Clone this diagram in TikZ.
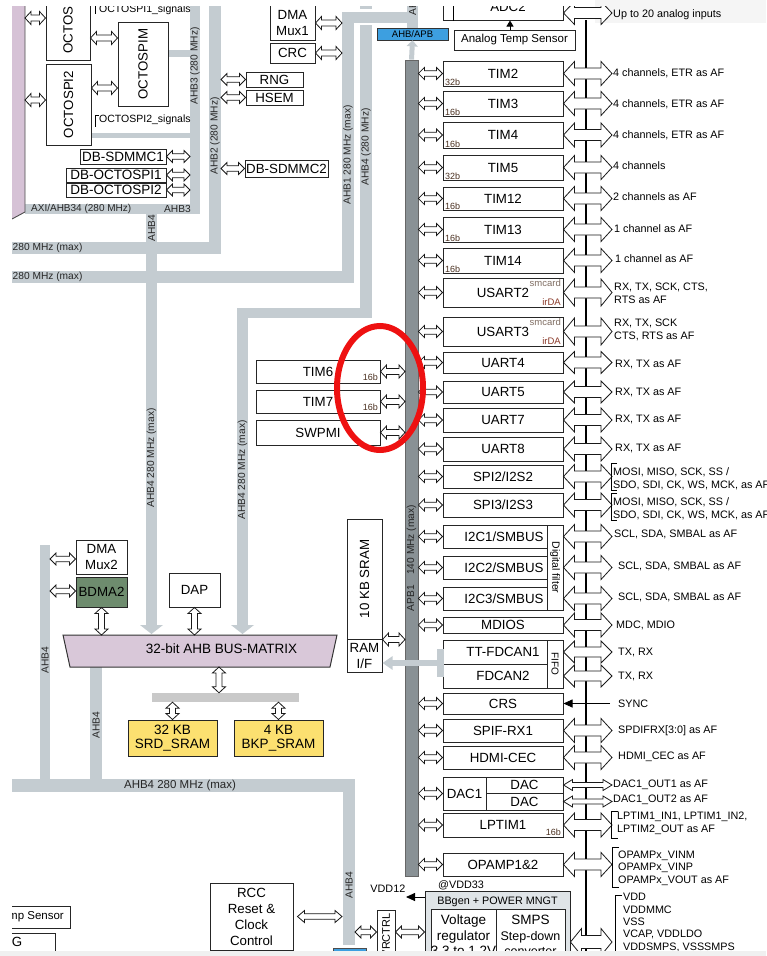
\documentclass[tikz,border=0pt]{standalone}
\usepackage{fontspec}
\setmainfont{Liberation Sans}
\usetikzlibrary{calc,arrows.meta}
\definecolor{bus}{HTML}{C4CCD1}
\definecolor{apbc}{HTML}{899195}
\definecolor{mat}{HTML}{D9C8D9}
\definecolor{purp}{HTML}{D6C2D6}
\definecolor{ylw}{HTML}{FCE070}
\definecolor{grn}{HTML}{6E8C6E}
\definecolor{blu}{HTML}{3D9FE0}
\definecolor{brn}{HTML}{4A3020}
\definecolor{irda}{HTML}{8B3A2A}
\definecolor{redc}{HTML}{EE1111}
\definecolor{bbg}{HTML}{DFE4E7}
\definecolor{gbar}{HTML}{C9C9C9}
\newcommand{\fs}[2]{\fontsize{#1}{#2}\selectfont}
\tikzset{
 box/.style={draw=black!85, line width=1pt, fill=white, inner sep=0pt, align=center, font=\fs{13.3}{16}},
 hol/.style={draw=black!90, line width=0.8pt, fill=white},
 lab/.style={anchor=west, inner sep=0pt, align=left, font=\fs{10.8}{12.7}},
 busl/.style={inner sep=0pt, font=\fs{10.2}{12}, rotate=90, text=black!85},
 busth/.style={inner sep=0pt, font=\fs{10.2}{12}, text=black!85},
 bits/.style={inner sep=0pt, font=\fs{9}{9}, text=brn, anchor=south west},
 bitse/.style={inner sep=0pt, font=\fs{9}{9}, text=brn, anchor=south east},
 txt/.style={inner sep=0pt, font=\fs{13.3}{16}, align=center},
 brk/.style={line width=0.8pt},
}
% box from (x1,y1) to (x2,y2)
\newcommand{\bx}[7][]{\node[box,minimum width={((#5)-(#3))*1pt},minimum height={((#6)-(#4))*1pt},#1] (#2) at ({((#3)+(#5))/2},{((#4)+(#6))/2}) {#7};}
% hollow horizontal double arrow: left x ref, right x ref, y ref, half head, half shaft, head length
\newcommand{\dblh}[6]{%
 \coordinate (dA) at (#1|-#3); \coordinate (dB) at (#2|-#3);
 \draw[hol] (dA) -- ++(#6,-#4) -- ++(0,#4-#5) -- ($(dB)+(-#6,-#5)$) -- ++(0,#5-#4) -- (dB) -- ++(-#6,#4) -- ++(0,#5-#4) -- ($(dA)+(#6,#5)$) -- ++(0,#4-#5) -- cycle;}
% hollow vertical double arrow: top y ref, bottom y ref, x ref, half head, half shaft, head length
\newcommand{\dblv}[6]{%
 \coordinate (dA) at (#3|-#1); \coordinate (dB) at (#3|-#2);
 \draw[hol] (dA) -- ++(-#4,#6) -- ++(#4-#5,0) -- ($(dB)+(-#5,-#6)$) -- ++(#5-#4,0) -- (dB) -- ++(#4,-#6) -- ++(#5-#4,0) -- ($(dA)+(#5,#6)$) -- ++(#4-#5,0) -- cycle;}
\newcommand{\la}[1]{\dblh{apb.east}{#1.west}{#1.west}{6}{2.8}{6}}
\newcommand{\ra}[2][12]{\dblh{#2.east}{rx}{#2.east}{#1}{5.5}{11}}
\begin{document}
\begin{tikzpicture}[x=1pt,y=-1pt]
\useasboundingbox (0,0) rectangle (766,956);
\fill[black!4] (595,0) rectangle (766,23);
\begin{scope}
\clip (12,6) rectangle (766,951);
% ---------------- grey buses
\fill[bus] (190,-5) rectangle (200,214);
\fill[bus] (25,204) rectangle (200,214);
\fill[bus] (168,50) rectangle (190,57);
\fill[bus] (91,133) rectangle (190,138);
\fill[bus] (146,214) rectangle (157,626);
\fill[bus] (209,-5) rectangle (221,254);
\fill[bus] (0,242) rectangle (221,254);
\fill[bus] (342,12) rectangle (354,283);
\fill[bus] (0,271) rectangle (354,283);
\fill[bus] (360,-5) rectangle (372,9);
\fill[bus] (360,25) rectangle (372,318);
\fill[bus] (237,308) rectangle (372,318);
\fill[bus] (237,308) rectangle (248,626);
\fill[bus] (342,12) rectangle (418,23);
\fill[bus] (407,-5) rectangle (418,28);
\fill[bus] (140,625) -- (163,625) -- (151.5,634) -- cycle;
\fill[bus] (231,625) -- (254,625) -- (242.5,634) -- cycle;
\fill[bus] (40,545) rectangle (50,792);
\fill[bus] (90,667) rectangle (102,792);
\fill[bus] (0,779) rectangle (355,792);
\fill[bus] (343,779) rectangle (355,945);
% bus labels
\node[busl] at (195,66) {AHB3 (280 MHz)};
\node[busth,anchor=west,font=\fs{10}{12}] at (31,209) {AXI/AHB34 (280 MHz)};
\node[busth] at (177.5,209) {AHB3};
\node[busl] at (151.5,228) {AHB4};
\node[busl] at (215,136) {AHB2 (280 MHz)};
\node[busth,anchor=west] at (12.5,248) {280 MHz (max)};
\node[busth,anchor=west] at (12.5,277) {280 MHz (max)};
\node[busl] at (348,155) {AHB1 280 MHz (max)};
\node[busl] at (366,147) {AHB4 (280 MHz)};
\node[busl,anchor=west] at (412.5,16) {AHB1};
\node[busl] at (151.5,458) {AHB4 280 MHz (max)};
\node[busl] at (242.5,470) {AHB4 280 MHz (max)};
\node[busl] at (45,660) {AHB4};
\node[busl] at (96,725) {AHB4};
\node[busth,font=\fs{11.5}{12}] at (180,786) {AHB4 280 MHz (max)};
\node[busl] at (349,885) {AHB4};
% ---------------- top-left
\fill[purp] (12,-5) -- (25,-5) -- (25,212) -- (12,219) -- cycle;
\draw[line width=0.9pt, black!70] (25,-5) -- (25,212) -- (12,219);
\bx{octa}{46}{-20}{90}{60}{}
\node[txt,rotate=90] (octat) at (octa) {OCTOSPI1};
\bx{octb}{46}{64}{91}{145}{}
\node[txt,rotate=90] (octbt) at (octb) {OCTOSPI2};
\bx{octm}{118}{22}{168}{106}{}
\node[txt,rotate=90] (octmt) at (octm) {OCTOSPIM};
\node[lab,font=\fs{10.5}{12}] (sig1) at (99,10) {OCTOSPI1\_signals};
\node[lab,font=\fs{10.5}{12}] (sig2) at (99,120) {OCTOSPI2\_signals};
\draw[brk] (99,4) -- (95.5,4) -- (95.5,14);
\draw[brk] (99,115) -- (95.5,115) -- (95.5,127);
\coordinate (pb1) at (25,18);
\coordinate (pb2) at (25,100);
\coordinate (oy1) at (0,38);
\coordinate (oy2) at (0,88);
\dblh{pb1}{octa.west}{pb1}{6.5}{3}{6}
\dblh{pb2}{octb.west}{pb2}{6.5}{3}{6}
\dblh{octa.east}{octm.west}{oy1}{6.5}{3}{6}
\dblh{octb.east}{octm.west}{oy2}{6.5}{3}{6}
\bx[font=\fs{13.5}{14}]{dbs1}{80}{149}{166}{164}{DB-SDMMC1}
\bx[font=\fs{13.5}{14}]{dbo1}{66}{168}{166}{182}{DB-OCTOSPI1}
\bx[font=\fs{13.5}{14}]{dbo2}{66}{183}{166}{197}{DB-OCTOSPI2}
\coordinate (ahb3l) at (190,0);
\dblh{dbs1.east}{ahb3l}{dbs1.east}{6}{2.8}{6}
\dblh{dbo1.east}{ahb3l}{dbo1.east}{6}{2.8}{6}
\dblh{dbo2.east}{ahb3l}{dbo2.east}{6}{2.8}{6}
% AHB2 peripherals
\coordinate (ahb2r) at (221,0);
\bx{rng}{246}{72}{303}{87}{RNG}
\bx{hsem}{246}{90}{303}{105}{HSEM}
\bx{dbs2}{245}{160}{328}{177}{DB-SDMMC2}
\dblh{ahb2r}{rng.west}{rng.west}{6}{2.8}{6}
\dblh{ahb2r}{hsem.west}{hsem.west}{6}{2.8}{6}
\dblh{ahb2r}{dbs2.west}{dbs2.west}{6}{2.8}{6}
% AHB1 peripherals
\coordinate (ahb1l) at (342,0);
\bx{dmamux1}{270}{-5}{315}{40}{}
\node[txt] (dmamux1t) at (292.5,23) {DMA\\Mux1};
\bx{crc}{270}{43}{315}{63}{CRC}
\coordinate (dm1y) at (0,23);
\dblh{dmamux1.east}{ahb1l}{dm1y}{6.5}{3}{6}
\dblh{crc.east}{ahb1l}{crc.east}{6.5}{3}{6}
% ---------------- APB bar
\node[draw=black!60, fill=apbc, line width=0.8pt, minimum width=13pt, minimum height=816pt, inner sep=0pt] (apb) at (411.5,468) {};
\node[busl] at (411.5,558) {APB1\quad 140 MHz (max)};
\node[draw=black!80, fill=blu, line width=0.7pt, minimum width=71pt, minimum height=12pt, inner sep=0pt, font=\fs{9.5}{10}] (ahbapb) at (412.5,34) {AHB/APB};
\draw[bus, line width=5pt, -{Triangle[width=11pt,length=6pt]}] (apb.north) -- (ahbapb.south);
% ---------------- right bus line
\coordinate (bustop) at (586,20);
\coordinate (busbot) at (586,960);
\draw[line width=2.4pt] (bustop) -- (busbot);
\coordinate (rx) at (612,0);
% ADC
\bx{adc}{443}{-10}{563}{20}{}
\draw[line width=1pt] ([xshift=11pt]adc.north west) -- ([xshift=11pt]adc.south west);
\node[txt] (adct) at (508,7) {ADC2};
\bx[font=\fs{11.5}{12}]{temp}{454}{30}{575}{50}{Analog Temp Sensor}
\coordinate (tq) at (510,0);
\draw[line width=0.9pt, -{Triangle[width=7pt,length=6pt]}] (tq|-temp.north) -- (tq|-adc.south);
\coordinate (adcy) at (0,13);
\dblh{adc.east}{rx}{adcy}{11.5}{5.5}{11}
\node[lab] (ladc) at (613,15) {Up to 20 analog inputs};
% timers
\bx{tim2}{443}{61}{563}{86}{TIM2}\node[bits] at (445,85.5) {32b};
\bx{tim3}{443}{91}{563}{116}{TIM3}\node[bits] at (445,115.5) {16b};
\bx{tim4}{443}{122}{563}{148}{TIM4}\node[bits] at (445,147.5) {16b};
\bx{tim5}{443}{155}{563}{180}{TIM5}\node[bits] at (445,179.5) {32b};
\bx{tim12}{443}{187}{563}{210}{TIM12}\node[bits] at (445,209.5) {16b};
\bx{tim13}{443}{217}{563}{242}{TIM13}\node[bits] at (445,241.5) {16b};
\bx{tim14}{443}{248}{563}{273}{TIM14}\node[bits] at (445,272.5) {16b};
\bx{usart2}{443}{278}{563}{307}{USART2}
\node[inner sep=0pt, font=\fs{9.5}{10}, text=brn!70, anchor=north east] at (561,279.5) {smcard};
\node[inner sep=0pt, font=\fs{9.5}{10}, text=irda, anchor=south east] at (561,305.5) {irDA};
\bx{usart3}{443}{317}{563}{346}{USART3}
\node[inner sep=0pt, font=\fs{9.5}{10}, text=brn!70, anchor=north east] at (561,318.5) {smcard};
\node[inner sep=0pt, font=\fs{9.5}{10}, text=irda, anchor=south east] at (561,344.5) {irDA};
\bx{uart4}{443}{352}{563}{373}{UART4}
\bx{uart5}{443}{381}{563}{403}{UART5}
\bx{uart7}{443}{408}{563}{432}{UART7}
\bx{uart8}{443}{437}{563}{461}{UART8}
\bx{spi2}{443}{465}{563}{488}{SPI2/I2S2}
\bx{spi3}{443}{493}{563}{517}{SPI3/I2S3}
\bx{i2c1}{443}{525}{547}{548}{}
\bx{i2c2}{443}{556}{547}{579}{}
\bx{i2c3}{443}{587}{547}{610}{}
\node[txt] (i2c1t) at (504,536.5) {I2C1/SMBUS};
\node[txt] (i2c2t) at (504,567.5) {I2C2/SMBUS};
\node[txt] (i2c3t) at (504,598.5) {I2C3/SMBUS};
\bx{dfilt}{547}{525}{563}{610}{}
\node[inner sep=0pt, font=\fs{10.5}{11}, rotate=-90] (dfiltt) at (dfilt) {Digital filter};
\bx{mdios}{443}{617}{563}{633}{MDIOS}
\bx{fdc}{443}{640}{563}{688}{}
\bx{fd1}{443}{640}{547}{664}{}
\bx{fd2}{443}{664}{547}{688}{}
\node[txt] (fd1t) at (503,652) {TT-FDCAN1};
\node[txt] (fd2t) at (503,676) {FDCAN2};
\bx{fifo}{547}{640}{563}{688}{}
\node[inner sep=0pt, font=\fs{10}{11}, rotate=-90] (fifot) at (fifo) {FIFO};
\bx{crs}{443}{693}{563}{714}{CRS}
\bx{spif}{443}{719}{563}{742}{SPIF-RX1}
\bx{hdmi}{443}{746}{563}{769}{HDMI-CEC}
\bx{dac}{443}{777}{563}{810}{}
\bx{dac1}{443}{777}{486}{810}{DAC1}
\bx{daca}{486}{777}{563}{793}{DAC}
\bx{dacb}{486}{793}{563}{810}{DAC}
\bx{lptim}{443}{813}{563}{837}{LPTIM1}
\node[bitse] at (561,835.5) {16b};
\bx{opamp}{443}{853}{563}{876}{OPAMP1\&2}
% left small arrows
\la{tim2}\la{tim3}\la{tim4}\la{tim5}\la{tim12}\la{tim13}\la{tim14}
\la{usart2}\la{usart3}\la{uart4}\la{uart5}\la{uart7}\la{uart8}
\la{spi2}\la{spi3}\la{i2c1}\la{i2c2}\la{i2c3}\la{mdios}
\la{crs}\la{spif}\la{hdmi}\la{dac}\la{lptim}\la{opamp}
% right big arrows
\ra{tim2}\ra{tim3}\ra{tim4}\ra{tim5}\ra{tim12}\ra{tim13}\ra{tim14}
\ra[13.5]{usart2}\ra[13.5]{usart3}\ra[11]{uart4}\ra[11]{uart5}\ra{uart7}\ra{uart8}
\ra{spi2}\ra{spi3}
\dblh{dfilt.east}{rx}{i2c1.east}{12}{5.5}{11}
\dblh{dfilt.east}{rx}{i2c2.east}{12}{5.5}{11}
\dblh{dfilt.east}{rx}{i2c3.east}{12}{5.5}{11}
\ra{mdios}
\dblh{fifo.east}{rx}{fd1.east}{11}{5}{11}
\dblh{fifo.east}{rx}{fd2.east}{11}{5}{11}
\draw[line width=0.9pt, -{Triangle[width=8pt,length=9pt]}] ([xshift=-2pt]rx|-crs.east) -- (crs.east);
\ra{spif}\ra{hdmi}
\dblh{daca.east}{rx}{daca.east}{5.5}{2.5}{9}
\dblh{dacb.east}{rx}{dacb.east}{5.5}{2.5}{9}
\ra{lptim}\ra{opamp}
% right labels
\node[lab] at (613,73) {4 channels, ETR as AF};
\node[lab] at (613,104) {4 channels, ETR as AF};
\node[lab] at (613,135) {4 channels, ETR as AF};
\node[lab] at (613,166) {4 channels};
\node[lab] at (613,197) {2 channels as AF};
\node[lab] at (614,229) {1 channel as AF};
\node[lab] at (615,259) {1 channel as AF};
\node[lab] at (614,293) {RX, TX, SCK, CTS,\\RTS as AF};
\node[lab] at (614,330) {RX, TX, SCK\\CTS, RTS as AF};
\node[lab] at (615,364) {RX, TX as AF};
\node[lab] at (615,392) {RX, TX as AF};
\node[lab] at (615,419) {RX, TX as AF};
\node[lab] at (615,448) {RX, TX as AF};
\draw[brk] (617,463) -- (611,463) -- (611,490) -- (617,490);
\draw[brk] (617,493) -- (611,493) -- (611,520) -- (617,520);
\node[lab] at (613,479) {MOSI, MISO, SCK, SS /\\SDO, SDI, CK, WS, MCK, as AF};
\node[lab] at (613,508.5) {MOSI, MISO, SCK, SS /\\SDO, SDI, CK, WS, MCK, as AF};
\node[lab] at (614,534) {SCL, SDA, SMBAL as AF};
\node[lab] at (618,566) {SCL, SDA, SMBAL as AF};
\node[lab] at (618,597) {SCL, SDA, SMBAL as AF};
\node[lab] at (616,625) {MDC, MDIO};
\node[lab] at (618,652) {TX, RX};
\node[lab] at (618,676) {TX, RX};
\node[lab] at (618,704) {SYNC};
\node[lab] at (618,731) {SPDIFRX[3:0] as AF};
\node[lab] at (618,757) {HDMI\_CEC as AF};
\node[lab] at (613,785) {DAC1\_OUT1 as AF};
\node[lab] at (613,800) {DAC1\_OUT2 as AF};
\draw[brk] (618,811) -- (611,811) -- (611,838) -- (618,838);
\node[lab] at (617,823.5) {LPTIM1\_IN1, LPTIM1\_IN2,\\LPTIM2\_OUT as AF};
\draw[brk] (619,847) -- (612,847) -- (612,887) -- (619,887);
\node[lab] at (618,868) {OPAMPx\_VINM\\OPAMPx\_VINP\\OPAMPx\_VOUT as AF};
\draw[brk] (622,895) -- (615,895) -- (615,965);
\node[lab, font=\fs{10.8}{12.3}] at (623,922.5) {VDD\\VDDMMC\\VSS\\VCAP, VDDLDO\\VDDSMPS, VSSSMPS};
% ---------------- TIM6/7, SWPMI
\coordinate (apbw) at (405,0);
\bx{tim6}{256}{360}{380}{383}{TIM6}\node[bitse] at (378,380.5) {16b};
\bx{tim7}{256}{390}{380}{413}{TIM7}\node[bitse] at (378,410.5) {16b};
\bx{swpmi}{256}{420}{380}{445}{SWPMI}
\dblh{tim6.east}{apbw}{tim6.east}{6.5}{3}{6}
\dblh{tim7.east}{apbw}{tim7.east}{6.5}{3}{6}
\dblh{swpmi.east}{apbw}{swpmi.east}{6.5}{3}{6}
% ---------------- SRAM
\bx{sram}{347}{519}{382}{639}{}
\node[txt,rotate=90] (sramt) at (sram) {10 KB SRAM};
\bx{ramif}{347}{639}{382}{672}{RAM\\I/F}
\dblh{sram.south east}{apbw}{sram.south east}{6.5}{3}{6}
\fill[bus] (437,649) rectangle (444,677);
\coordinate (ga) at (440,663);
\draw[bus, line width=6.5pt, -{Triangle[width=13pt,length=10pt]}] (ga) -- (ramif.east|-ga);
% ---------------- bus matrix area
\filldraw[fill=mat, draw=black!80, line width=1pt] (63,635) -- (337,635) -- (330,667) -- (70,667) -- cycle;
\node[txt, font=\fs{13.5}{14}] (bmt) at (221.5,649) {32-bit AHB BUS-MATRIX};
\coordinate (bmtop) at (0,635);
\coordinate (bmbot) at (219,667);
\bx{dmamux2}{76}{540}{127}{574}{DMA\\Mux2}
\bx[fill=grn]{bdma2}{76}{577}{127}{607}{BDMA2}
\coordinate (dmy) at (50,559);
\coordinate (bdy) at (50,591);
\dblh{dmy}{dmamux2.west}{dmy}{6}{2.8}{6}
\dblh{bdy}{bdma2.west}{bdy}{6}{2.8}{6}
\bx{dap}{169}{573}{220}{607}{DAP}
\dblv{bdma2.south}{bmtop}{bdma2.south}{6.5}{3}{6}
\dblv{dap.south}{bmtop}{dap.south}{6.5}{3}{6}
\node[fill=gbar, minimum width=147pt, minimum height=9pt, inner sep=0pt] (gbar) at (225.5,697.5) {};
\dblv{bmbot}{gbar.north}{bmbot}{6.5}{3}{6}
\bx[fill=ylw, font=\fs{13.5}{14}]{srd}{128}{720}{217}{756}{32 KB\\SRD\_SRAM}
\bx[fill=ylw, font=\fs{13.5}{14}]{bkp}{234}{720}{323}{756}{4 KB\\BKP\_SRAM}
\dblv{gbar.south}{srd.north}{srd.north}{6.5}{3}{6}
\dblv{gbar.south}{bkp.north}{bkp.north}{6.5}{3}{6}
% ---------------- power / bottom
\bx[fill=bbg]{bbox}{425}{891}{570}{975}{}
\node[inner sep=0pt, font=\fs{10.8}{11}] (bbt) at (497.5,902) {BBgen + POWER MNGT};
\bx{vreg}{431}{909}{496}{975}{}
\bx{smps}{496}{909}{565}{975}{}
\node[inner sep=0pt, font=\fs{13.5}{14}, anchor=base] at (463.5,924.8) {Voltage};
\node[inner sep=0pt, font=\fs{13.5}{14}, anchor=base] at (463.5,940.5) {regulator};
\node[inner sep=0pt, font=\fs{13.5}{14}, anchor=base] at (463.5,955.5) {3.3 to 1.2V};
\node[inner sep=0pt, font=\fs{13.5}{14}, anchor=base] at (530.5,924.5) {SMPS};
\node[inner sep=0pt, font=\fs{12.5}{13}, anchor=base] at (530.5,940.5) {Step-down};
\node[inner sep=0pt, font=\fs{12.5}{13}, anchor=base] at (530.5,955.5) {converter};
\dblh{bbox.east}{rx}{smps.east}{13.5}{6.5}{11}
\node[lab] (vdd33) at (438,885) {@VDD33};
\coordinate (v12) at (406,897);
\draw[line width=0.9pt, -{Triangle[width=8pt,length=9pt]}] (bbox.west|-v12) -- (v12);
\node[inner sep=0pt, font=\fs{10.8}{11}, anchor=east] (vdd12) at (405.5,889) {VDD12};
\bx{vrc}{377}{910}{395}{975}{}
\node[inner sep=0pt, font=\fs{11}{12}, rotate=90, anchor=west] (vrct) at (386,957.5) {VRCTRL};
\coordinate (ahb4r) at (355,932);
\dblh{ahb4r}{vrc.west}{ahb4r}{6}{2.8}{6}
\dblh{vrc.east}{bbox.west}{ahb4r}{6}{2.8}{6}
\bx{rcc}{210}{883}{293}{950}{RCC\\Reset \&\\Clock\\Control}
\coordinate (rcca) at ([xshift=4pt]rcc.east);
\coordinate (ahb4l) at (342,0);
\dblh{rcca}{ahb4l}{rcca}{6}{2.8}{7}
\node[draw=black!70, fill=blu, line width=0.7pt, minimum width=33pt, minimum height=14pt, inner sep=0pt] (ahbb) at (349.5,955) {};
\bx{dts}{-60}{906}{70}{928}{}
\node[inner sep=0pt, font=\fs{11.5}{12}, anchor=east] (dtst) at (64,917) {Temp Sensor};
\bx{jtag}{-40}{933}{55}{975}{}
\node[txt, anchor=east] (jtagt) at (22.5,942) {JTAG};
% ---------------- red ellipse
\draw[redc, line width=6pt] (380,388) ellipse [x radius=43pt, y radius=62pt];
\end{scope}
\fill[black!6] (0,951) rectangle (766,956);
\end{tikzpicture}
\end{document}
